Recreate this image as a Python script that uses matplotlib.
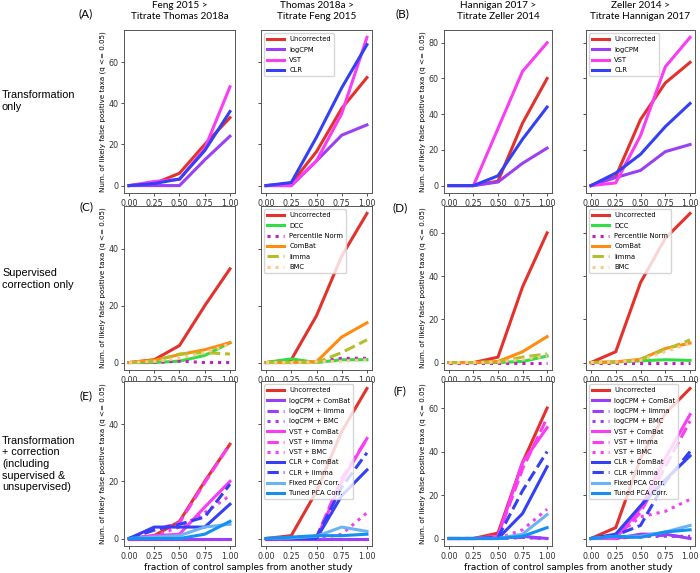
import matplotlib
matplotlib.use('Agg')
from matplotlib import pyplot as plt
from matplotlib import ticker

W, H = 700, 573

fracs = [0.0, 0.25, 0.5, 0.75, 1.0]
col_titles = ['Feng 2015 >\nTitrate Thomas 2018a', 'Thomas 2018a >\nTitrate Feng 2015',
              'Hannigan 2017 >\nTitrate Zeller 2014', 'Zeller 2014 >\nTitrate Hannigan 2017']
row_labels = ['Transformation\nonly', 'Supervised\ncorrection only',
              'Transformation\n+ correction\n(including\nsupervised &\nunsupervised)']
panel_letters = ['(A)', '(B)', '(C)', '(D)', '(E)', '(F)']
ylabel = 'Num. of likely false positive taxa (q <= 0.05)'
xlabel = 'fraction of control samples from another study'

# row 1: transformation only (one list per column)
uncorrected = [[0, 1, 6, 20, 33], [0, 1, 16.5, 37.5, 52.5],
               [0, 0, 2.5, 35, 60], [0, 5, 37, 57.5, 69]]
logcpm = [[0, 0, 0, 12.5, 24], [0, 0, 12, 24.5, 29.5],
          [0, 0, 2, 12.5, 21], [0, 4.5, 8.5, 19, 23]]
vst = [[0, 2, 3, 18, 48], [0, 0, 12, 35, 72],
       [0, 0, 32, 64, 80], [0, 1.5, 28, 66.5, 83]]
clr = [[0, 1, 3.2, 17, 36], [0, 1.5, 23.5, 47.5, 68.5],
       [0, 0, 5.5, 26, 44], [0, 7, 17.5, 33, 46]]

# row 2: supervised correction only
dcc = [[0, 0, 0.5, 2.5, 7], [0, 1.3, 0, 1, 1],
       [0, 0, 0, 0.5, 3], [0, 0.3, 0.8, 1.3, 1]]
pct_norm = [[0, 0, 0.5, 0, 0], [0, 0, 0.3, 1.5, 1.5],
            [0, 0, 0, 0, 0], [0, 0, 0, 0, 0]]
combat = [[0, 0.8, 2.8, 4.5, 7], [0, 0, 0.3, 9, 14],
          [0, 0, 0.5, 5, 12], [0, 0.3, 1.5, 6.5, 9]]
limma = [[0, 0.5, 3, 3.5, 3], [0, 0, 0, 3.5, 8],
         [0, 0, 0.3, 2.5, 4], [0, 0, 1.5, 6, 10.5]]
bmc = [[0, 0.3, 1.5, 3.5, 6.5], [0, 0, 0.3, 0.5, 1],
       [0, 0, 0.2, 1.5, 3], [0, 0.3, 1, 5, 9]]

# row 3: transformation + correction
lc_combat = [[0, 0, 0, 0, 0], [0, 0, 0, 0, 0], [0, 0, 0, 1, 0], [0, 0, 2, 2, 0]]
lc_limma = [[0, 0, 0, 0, 0], [0, 0, 0, 0, 0], [0, 0, 0, 0.5, 0], [0, 0, 1, 1.5, 0.5]]
lc_bmc = [[0, 0, 0, 0, 0], [0, 0, 0, 0, 0], [0, 0, 0, 0.5, 0], [0, 0.5, 1, 1, 1]]
vst_combat = [[0, 1, 1.5, 11, 20], [0, 0, 0, 20, 35],
              [0, 0, 1, 35, 51], [0, 0, 14, 37, 57]]
vst_limma = [[0, 3, 5.5, 19.5, 33], [0, 0, 0.5, 21, 35],
             [0, 0, 1, 32, 55.5], [0, 0, 12, 33, 54]]
vst_bmc = [[0, 1, 4, 9, 15], [0, 0, 0, 1.5, 9],
           [0, 0, 0, 4, 13.5], [0, 1, 10, 12.5, 18]]
clr_combat = [[0, 4, 4, 4, 12], [0, 0, 0, 15, 24],
              [0, 0, 0, 11.5, 33], [0, 2, 15, 27, 38]]
clr_limma = [[0, 3, 5, 7.5, 19], [0, 0, 0.5, 18, 30],
             [0, 0, 0.5, 22, 40], [0, 1.5, 6, 26, 40]]
fixed_pca = [[0, 0.5, 1, 4, 5], [0, 0.2, 0.8, 4, 2.5],
             [0, 0, 0, 2, 11], [0, 1, 1, 3, 6]]
tuned_pca = [[0, 0, 0, 1.5, 6], [0, 0.5, 1, 1, 1.5],
             [0, 0, 0, 1, 5], [0, 1, 0.5, 3, 4]]

RED, PUR, MAG, BLU = '#e4312b', '#9a3ff5', '#fa3cf5', '#3340f5'

rows = [
    [('Uncorrected', uncorrected, RED, '-'),
     ('logCPM', logcpm, PUR, '-'),
     ('VST', vst, MAG, '-'),
     ('CLR', clr, BLU, '-')],
    [('Uncorrected', uncorrected, RED, '-'),
     ('DCC', dcc, '#33dd44', '-'),
     ('Percentile Norm', pct_norm, '#c21fc2', ':'),
     ('ComBat', combat, '#ff8c10', '-'),
     ('limma', limma, '#b4be28', '--'),
     ('BMC', bmc, '#ffc890', ':')],
    [('Uncorrected', uncorrected, RED, '-'),
     ('logCPM + ComBat', lc_combat, PUR, '-'),
     ('logCPM + limma', lc_limma, PUR, '--'),
     ('logCPM + BMC', lc_bmc, PUR, ':'),
     ('VST + ComBat', vst_combat, MAG, '-'),
     ('VST + limma', vst_limma, MAG, '--'),
     ('VST + BMC', vst_bmc, MAG, ':'),
     ('CLR + ComBat', clr_combat, BLU, '-'),
     ('CLR + limma', clr_limma, BLU, '--'),
     ('Fixed PCA Corr.', fixed_pca, '#6ab4f5', '-'),
     ('Tuned PCA Corr.', tuned_pca, '#1490f0', '-')],
]

col_px = [(124, 235), (261, 372), (444, 552), (586, 695)]
row_px = [(30, 193), (206, 370), (381, 546)]


def fx(x):
    return x / W


def fy(y):
    return 1 - y / H


fig = plt.figure(figsize=(7, 5.73), dpi=100)

for r, series in enumerate(rows):
    top, bot = row_px[r]
    share = None
    for c in range(4):
        left, right = col_px[c]
        if c % 2 == 0:
            ax = fig.add_axes([fx(left), fy(bot), (right - left) / W, (bot - top) / H])
            share = ax
        else:
            ax = fig.add_axes([fx(left), fy(bot), (right - left) / W, (bot - top) / H],
                              sharey=share)
        for name, data, col, ls in series:
            ax.plot(fracs, data[c], color=col, linestyle=ls, linewidth=2.2, label=name)
        ax.set_xticks(fracs)
        ax.xaxis.set_major_formatter(ticker.FormatStrFormatter('%.2f'))
        ax.yaxis.set_major_locator(ticker.MultipleLocator(20))
        ax.tick_params(labelsize=5.8, length=2.5, width=0.6, pad=1.5, colors='#333333')
        for s in ax.spines.values():
            s.set_linewidth(0.7)
            s.set_color('#555555')
        if c % 2 == 0:
            ax.set_ylabel(ylabel, fontsize=5.1, labelpad=2)
        else:
            ax.tick_params(labelleft=False)
            ax.legend(loc='upper left', fontsize=4.9, handlelength=2.4,
                      labelspacing=0.63, borderpad=0.45, handletextpad=0.8)

for c in range(4):
    cx = (col_px[c][0] + col_px[c][1]) / 2
    fig.text(fx(cx), fy(11), col_titles[c], ha='center', va='center',
             fontsize=7.2, family='Lato', linespacing=1.15)

row_y = [101, 279, 464]
for r in range(3):
    fig.text(fx(2), fy(row_y[r]), row_labels[r], ha='left', va='center',
             fontsize=7.8, family='Liberation Sans', linespacing=1.2)

letter_pos = [(86, 14), (402, 14), (86, 207), (400, 208), (86, 396), (400, 391)]
for (px, py), lab in zip(letter_pos, panel_letters):
    fig.text(fx(px), fy(py), lab, ha='center', va='center', fontsize=8.5, family='Lato')

fig.text(fx(248), fy(567), xlabel, ha='center', va='center', fontsize=6.4)
fig.text(fx(568), fy(567), xlabel, ha='center', va='center', fontsize=6.4)

plt.savefig('out.png', dpi=100)
